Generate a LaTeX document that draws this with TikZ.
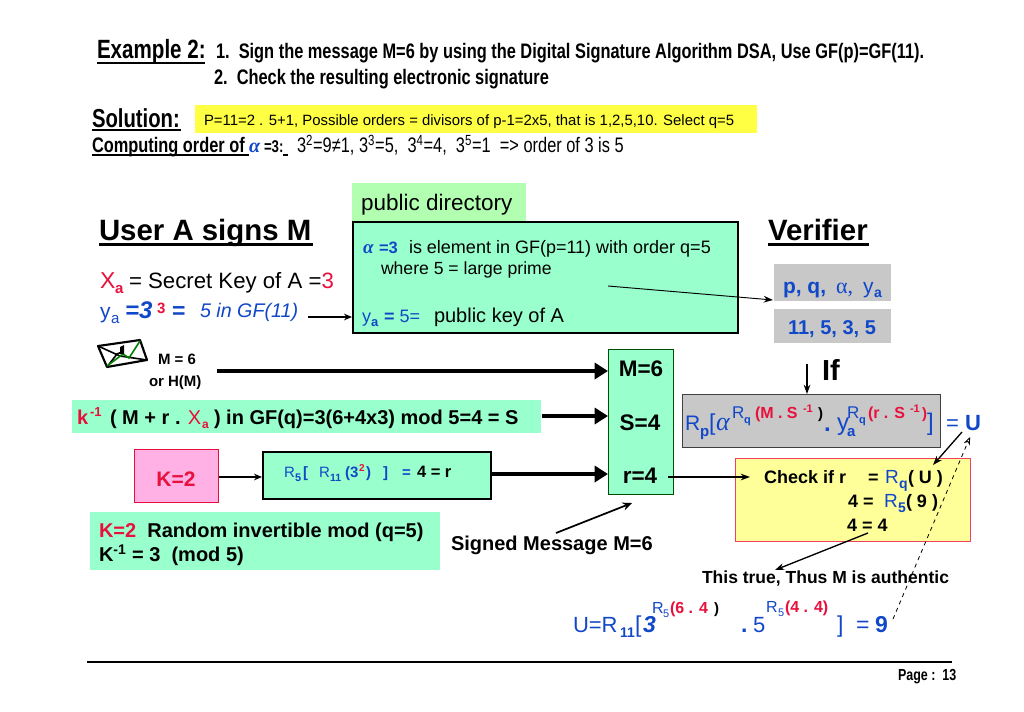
\documentclass[tikz,border=0pt]{standalone}
\usepackage{fontspec}
\setmainfont{Liberation Sans}
\newfontfamily\nar[FakeStretch=0.78]{Liberation Sans}
\newfontfamily\ser{Liberation Serif}
\usetikzlibrary{arrows.meta}
\definecolor{ublue}{HTML}{1148C8}
\definecolor{ured}{HTML}{E8103C}
\definecolor{mint}{HTML}{99FFCC}
\definecolor{lgreen}{HTML}{B2FFB2}
\definecolor{ggrey}{HTML}{C8C8C8}
\definecolor{pink}{HTML}{FFB0E4}
\definecolor{band}{HTML}{FFFF44}
\definecolor{pale}{HTML}{FFFF99}
\newcommand\fs[1]{\fontsize{\fpeval{#1*0.75}}{\fpeval{#1*0.9}}\selectfont}
\newcounter{tn}
\newcommand\tx[3]{\stepcounter{tn}\node[txt] (t\arabic{tn}) at (#1,#2) {#3};}
\newcommand\pxbox[6]{\node[#2,minimum width=\fpeval{(#5-#3)*0.75}pt,minimum height=\fpeval{(#6-#4)*0.75}pt,inner sep=0pt,anchor=north west] (#1) at (#3,#4) {};}
\newcommand\R[1]{\textcolor{ublue}{\textbf{#1}}}
\newcommand\B[1]{\textcolor{ublue}{#1}}
\newcommand\Rd[1]{\textcolor{ured}{#1}}
\tikzset{
 txt/.style={anchor=base west,inner sep=0pt,outer sep=0pt},
 thin arrow/.style={line width=1pt,-{Stealth[length=7pt,width=5pt]}},
 fat arrow/.style={line width=3.6pt,-{Triangle[length=10pt,width=12pt]}},
 mid arrow/.style={line width=1.5pt,-{Stealth[length=6pt,width=5pt]}},
 uline/.style={line width=1.5pt},
}
\begin{document}
\begin{tikzpicture}[x=0.75pt,y=-0.75pt]
\useasboundingbox (0,0) rectangle (1024,711);
\fill[white] (0,0) rectangle (1024,711);
% boxes
\pxbox{bandbox}{fill=band}{195}{105}{757}{133}
\pxbox{pubbox}{fill=lgreen}{352}{183}{526}{221}
\pxbox{mainbox}{fill=mint,draw=black,line width=1.5pt}{352}{221}{737}{332}
\pxbox{pqbox}{fill=ggrey}{774}{264}{891}{301}
\pxbox{numbox}{fill=ggrey}{774}{309}{891}{343}
\pxbox{msgbox}{fill=mint,draw=black!70!green,line width=0.8pt}{608}{349}{673}{494}
\pxbox{kband}{fill=mint}{72}{400}{541}{433}
\pxbox{kbox}{fill=pink,draw=ured,line width=1pt}{134}{449}{218}{502}
\pxbox{rbox}{fill=mint,draw=black,line width=1.8pt}{262}{451}{490}{498}
\pxbox{kinfo}{fill=mint}{90}{512}{440}{570}
\pxbox{greybox}{fill=ggrey,draw=black!75,line width=0.8pt}{682}{394}{940}{447}
\pxbox{checkbox}{fill=pale,draw=ured!80,line width=0.8pt}{735}{458}{970}{541}
% header
\tx{97}{58}{\nar\fs{26.4}\bfseries Example 2:}
\tx{216}{58}{\nar\fs{21}\bfseries 1.\ \ Sign the message M=6 by using the Digital Signature Algorithm DSA, Use GF(p)=GF(11).}
\tx{214}{84}{\nar\fs{21}\bfseries 2.\ \ Check the resulting electronic signature}
\draw[uline] (97,62.5) -- (205,62.5);
\tx{92}{127}{\nar\fs{26}\bfseries Solution:}
\draw[uline] (92,130) -- (181,130);
\tx{204}{125}{\fs{14.9}P=11=2 . 5+1, Possible orders = divisors of p-1=2x5, that is 1,2,5,10. Select q=5}
\tx{92}{152}{\nar\fs{21}\bfseries Computing order of}
\draw[line width=1pt] (92,155) -- (249,155);
\tx{249}{152}{\ser\fs{20}\itshape\bfseries\textcolor{ublue}{α}}
\tx{264}{152}{\nar\fs{17}\bfseries =3:}
\draw[line width=1pt] (283,155) -- (288,155);
\tx{297}{152}{\nar\fs{21}3\textsuperscript{2}=9≠1, 3\textsuperscript{3}=5,\ \ 3\textsuperscript{4}=4,\ \ 3\textsuperscript{5}=1\ \ => order of 3 is 5}
% public directory
\tx{361}{210}{\fs{22.5}public directory}
\tx{99}{240}{\fs{29.4}\bfseries User A signs M}
\draw[line width=2pt] (99,244.5) -- (313,244.5);
\tx{768}{240}{\fs{29.4}\bfseries Verifier}
\draw[line width=2pt] (768,244.5) -- (869,244.5);
% main box
\tx{363}{253}{\ser\fs{19}\itshape\bfseries\textcolor{ublue}{α}}
\tx{379}{253}{\fs{16.5}\R{=3}}
\tx{409}{253}{\fs{18}is element in GF(p=11) with order q=5}
\tx{381}{274}{\fs{17.6}where 5 = large prime}
\tx{362}{322}{\fs{18}\B{y}}
\tx{371}{326}{\fs{13}\R{a}}
\tx{384}{322}{\fs{18}\R{=}\ \B{5=}}
\tx{434}{322}{\fs{20}public key of A}
% left column
\tx{100}{288}{\fs{23}\Rd{X}}
\tx{115}{293}{\fs{15}\textcolor{ured}{\bfseries a}}
\tx{129}{288}{\fs{22.2}= Secret Key of A =\Rd{3}}
\tx{100}{318}{\fs{21}\B{y}}
\tx{111}{323}{\fs{15}\B{a}}
\tx{125}{318}{\fs{24}\textcolor{ublue}{\bfseries\itshape =3}}
\tx{157}{313}{\fs{15}\textcolor{ured}{\bfseries 3}}
\tx{172}{318}{\fs{23}\R{=}}
\tx{200}{317}{\fs{19.7}\textcolor{ublue}{\itshape 5 in GF(11)}}
\tx{158}{364}{\fs{15}\bfseries M = 6}
\tx{149}{386}{\fs{15}\bfseries or H(M)}
% envelope
\draw[line width=1.6pt,line join=round,fill=white] (98,346) -- (140,340) -- (147,360) -- (107,367) -- cycle;
\draw[line width=1.2pt] (98,346) -- (120,356) -- (147,360);
\draw[line width=1.2pt] (107,367) -- (117,354) -- (122,352);
\draw[line width=1.2pt,green!50!black] (107,366) -- (123,354) -- (129,358) -- (140,341);
\fill (120,347) -- (124,345) -- (124,354) -- (120,354) -- cycle;
% k band
\tx{77}{424}{\fs{20}\textcolor{ured}{\bfseries k}}
\tx{90}{416}{\fs{13}\textcolor{ured}{\bfseries -1}}
\tx{110}{424}{\fs{20}\bfseries ( M + r . \textcolor{ured}{\mdseries X}}
\tx{202}{428}{\fs{12}\textcolor{ured}{\bfseries a}}
\tx{214}{424}{\fs{20}\bfseries ) in GF(q)=3(6+4x3) mod 5=4 = S}
% k box and r box
\node[txt,anchor=base,inner sep=0pt] (ktext) at (176,486) {\fs{21}\textcolor{ured}{\bfseries K=2}};
\tx{284}{477}{\fs{15}\B{R}}
\tx{295}{481}{\fs{11}\R{5}}
\tx{303}{477}{\fs{15}\R{[}}
\tx{319}{477}{\fs{15}\B{R}}
\tx{330}{481}{\fs{10.5}\R{11}}
\tx{345}{477}{\fs{15}\R{(3}}
\tx{359}{471}{\fs{10}\textcolor{ured}{\bfseries 2}}
\tx{366}{477}{\fs{15}\R{)}}
\tx{383}{477}{\fs{15}\R{]}}
\tx{402}{477}{\fs{15}\R{=}}
\tx{417}{477}{\fs{16.5}\bfseries 4 = r}
% k info
\tx{99}{537}{\fs{20}\bfseries\Rd{K=2}\ \ Random invertible mod (q=5)}
\tx{99}{561}{\fs{20}\bfseries K\textsuperscript{-1} = 3\ \ (mod 5)}
\tx{451}{550}{\fs{20}\bfseries Signed Message M=6}
% message box
\node[txt,anchor=base] (m6) at (641,376) {\fs{22.5}\bfseries M=6};
\node[txt,anchor=base] (s4) at (640,430) {\fs{22.5}\bfseries S=4};
\node[txt,anchor=base] (r4) at (640,483) {\fs{22.5}\bfseries r=4};
% verifier
\tx{783}{293}{\fs{21}\R{p, q,}}
\tx{836}{293}{\ser\fs{22}\B{α,}}
\tx{863}{293}{\fs{21}\B{y}}
\tx{874}{297}{\fs{14}\R{a}}
\node[txt,anchor=base] (num) at (832,334) {\fs{20}\R{11, 5, 3, 5}};
\tx{822}{380}{\fs{29}\bfseries If}
% grey formula
\tx{685}{430}{\fs{21}\B{R}}
\tx{700}{436}{\fs{15}\R{p}}
\tx{709}{430}{\fs{23}\B{[}}
\tx{716}{430}{\ser\fs{26}\itshape\textcolor{ublue}{α}}
\tx{732}{418}{\fs{17}\B{R}}
\tx{744}{423}{\fs{11}\R{q}}
\tx{755}{418}{\fs{16}\textcolor{ured}{\bfseries (M . S}}
\tx{803}{412}{\fs{11}\textcolor{ured}{\bfseries -1}}
\tx{818}{418}{\fs{15}\bfseries )}
\tx{824}{431}{\fs{24}\R{.}}
\tx{837}{430}{\fs{24}\B{y}}
\tx{847}{436}{\fs{15}\R{a}}
\tx{847}{418}{\fs{17}\B{R}}
\tx{859}{423}{\fs{11}\R{q}}
\tx{868}{418}{\fs{16}\textcolor{ured}{\bfseries (r . S}}
\tx{910}{412}{\fs{11}\textcolor{ured}{\bfseries -1}}
\tx{922}{418}{\fs{15}\textcolor{ured}{\bfseries )}}
\tx{927}{430}{\fs{24}\B{]}}
\tx{946}{430}{\fs{22}\B{=}}
\tx{965}{430}{\fs{22}\R{U}}
% check
\tx{764}{483}{\fs{18}\bfseries Check if r}
\tx{868}{483}{\fs{18}\bfseries =}
\tx{885}{483}{\fs{19}\B{R}}
\tx{899}{488}{\fs{14}\R{q}}
\tx{908}{483}{\fs{18}\bfseries ( U )}
\tx{848}{507}{\fs{18}\bfseries 4 =}
\tx{884}{507}{\fs{19}\B{R}}
\tx{898}{512}{\fs{14}\R{5}}
\tx{906}{507}{\fs{18}\bfseries ( 9 )}
\tx{847}{531}{\fs{18}\bfseries 4 = 4}
\tx{702}{583}{\fs{17.5}\bfseries This true, Thus M is authentic}
% U line
\tx{573}{632}{\fs{22}\B{U=R}}
\tx{620}{637}{\fs{14}\R{11}}
\tx{635}{632}{\fs{23}\B{[}}
\tx{643}{632}{\fs{23}\textcolor{ublue}{\bfseries\itshape 3}}
\tx{652}{613}{\fs{16}\B{R}}
\tx{663}{617}{\fs{11}\B{5}}
\tx{670}{613}{\fs{16}\textcolor{ured}{\bfseries (6 . 4}}
\tx{714}{613}{\fs{15}\bfseries )}
\tx{741}{632}{\fs{23}\R{.}}
\tx{753}{632}{\fs{22}\B{5}}
\tx{766}{612}{\fs{16}\B{R}}
\tx{778}{616}{\fs{11}\B{5}}
\tx{785}{612}{\fs{16}\textcolor{ured}{\bfseries (4 . 4)}}
\tx{837}{632}{\fs{23}\B{]}}
\tx{856}{632}{\fs{23}\B{=}}
\tx{875}{632}{\fs{23}\R{9}}
% footer
\tx{898}{680}{\nar\fs{16}\bfseries Page :\ \ 13}
\coordinate (footL) at (87,662);
\coordinate (footR) at (952,662);
\draw[line width=0.8pt] (footL) -- (footR);
% connectors
\coordinate (mstart) at (217,371);
\draw[fat arrow] (mstart) -- (mstart -| msgbox.west);
\draw[fat arrow] (kband.east |- 0,416) -- (msgbox.west |- 0,416);
\draw[fat arrow] (rbox.east |- 0,474) -- (msgbox.west |- 0,474);
\draw[mid arrow] (kbox.east |- 0,477) -- (rbox.west |- 0,477);
\coordinate (ystart) at (308,317);
\draw[mid arrow] (ystart) -- (ystart -| mainbox.west);
\coordinate (dirstart) at (608,286);
\coordinate (pqin) at (773,300);
\draw[line width=0.7pt,-{Stealth[length=7pt,width=5pt]}] (dirstart) -- (pqin);
\coordinate (ifstart) at (807,364);
\draw[thin arrow] (ifstart) -- (ifstart |- greybox.north);
\coordinate (r4out) at (668,477);
\coordinate (chkin) at (750,477);
\draw[thin arrow] (r4out) -- (chkin);
\coordinate (uout) at (962,432);
\coordinate (qin) at (933,465);
\draw[thin arrow] (uout) -- (qin);
\coordinate (eqout) at (868,533);
\coordinate (truein) at (775,570);
\draw[thin arrow] (eqout) -- (truein);
\coordinate (sigout) at (556,533);
\coordinate (sigin) at (632,503);
\draw[line width=1.3pt,-{Stealth[length=7pt,width=6pt]}] (sigout) -- (sigin);
\coordinate (nine) at (893,619);
\coordinate (uin) at (970,437);
\draw[line width=0.6pt,dashed,-{Stealth[length=6pt,width=5pt,open]}] (nine) -- (uin);
\end{tikzpicture}
\end{document}
